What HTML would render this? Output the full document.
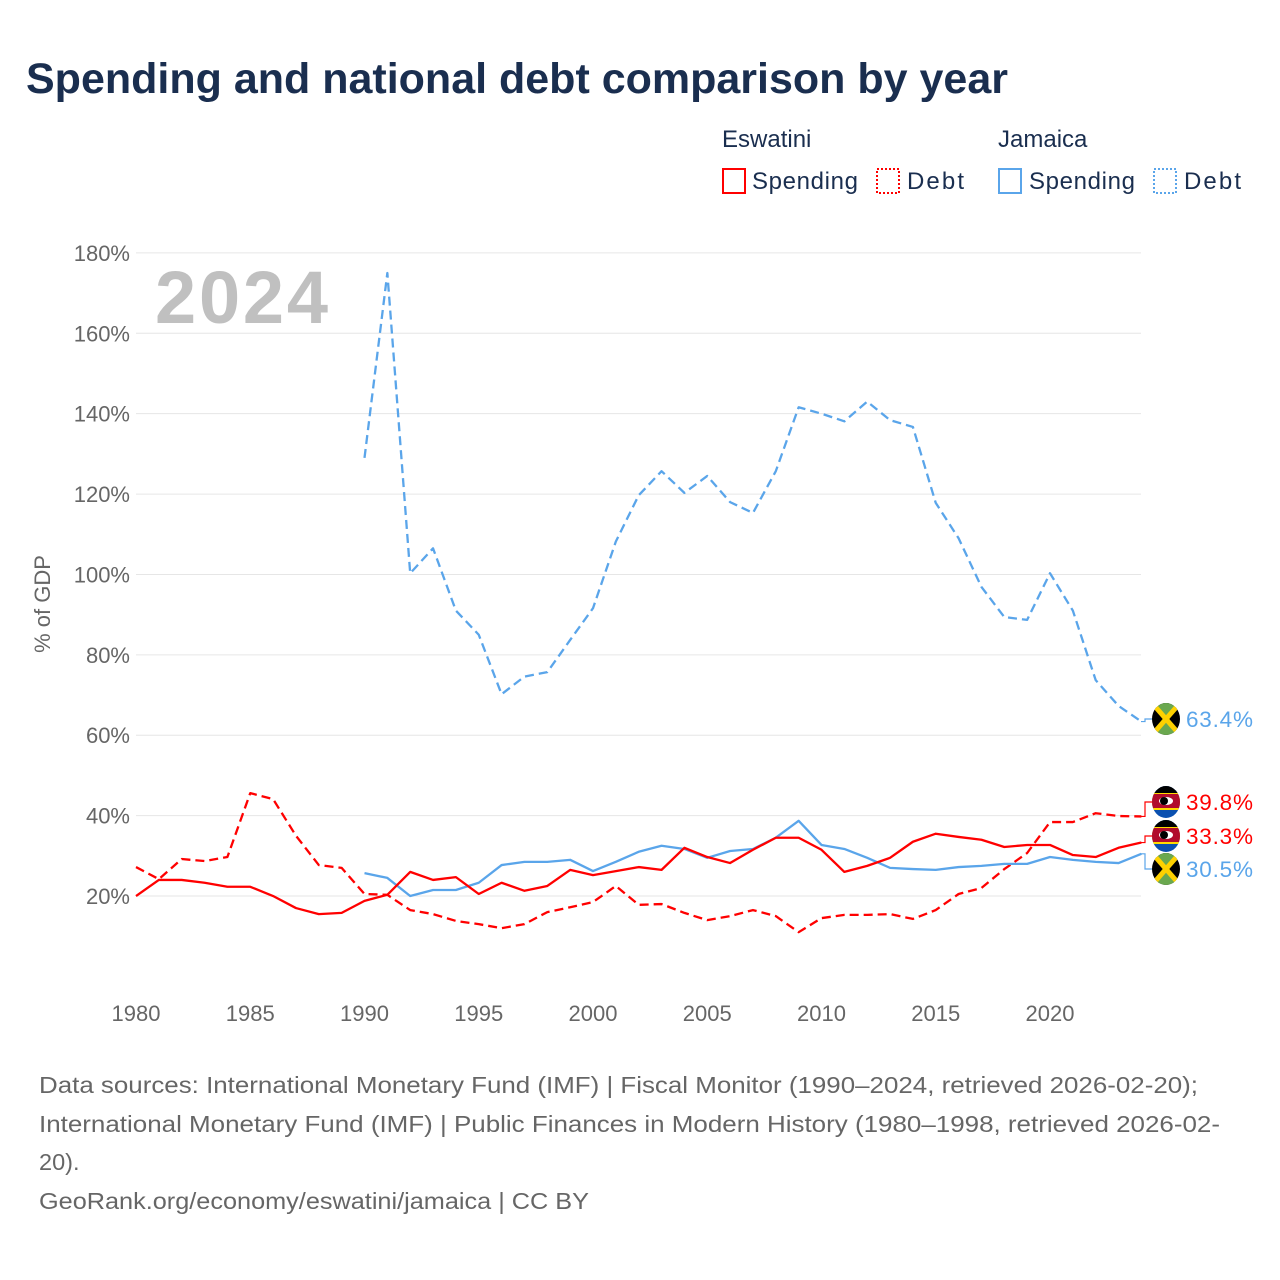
<!DOCTYPE html>
<html><head><meta charset="utf-8"><style>
body{margin:0;background:#fff;width:1280px;height:1280px;overflow:hidden;font-family:"Liberation Sans",sans-serif}
svg{display:block}
</style></head><body>
<svg id="c" width="1280" height="1280" xmlns="http://www.w3.org/2000/svg">
<text x="26" y="93" font-size="43" font-weight="bold" fill="#1a2e4f">Spending and national debt comparison by year</text>
<g font-size="24" fill="#1a2e4f">
<text x="722" y="147">Eswatini</text>
<text x="998" y="147">Jamaica</text>
<rect x="723" y="169" width="22" height="24" fill="none" stroke="#f00" stroke-width="2"/>
<text x="752" y="189" textLength="106">Spending</text>
<rect x="877" y="169" width="22" height="24" fill="none" stroke="#f00" stroke-width="2" stroke-dasharray="2 2"/>
<text x="907" y="189" textLength="57">Debt</text>
<rect x="999" y="169" width="22" height="24" fill="none" stroke="#5aa5ea" stroke-width="2"/>
<text x="1029" y="189" textLength="106">Spending</text>
<rect x="1154" y="169" width="22" height="24" fill="none" stroke="#5aa5ea" stroke-width="2" stroke-dasharray="2 2"/>
<text x="1184" y="189" textLength="57">Debt</text>
</g>
<g id="grid"></g>
<text x="155" y="323" font-size="74" font-weight="bold" fill="#c0c0c0" textLength="173">2024</text>
<text transform="translate(50,604) rotate(-90)" text-anchor="middle" font-size="22" fill="#666">% of GDP</text>
<g id="series"></g>
<g id="labels"></g>
<g font-size="23.5" fill="#666">
<text x="39" y="1093" textLength="1159" lengthAdjust="spacingAndGlyphs">Data sources: International Monetary Fund (IMF) | Fiscal Monitor (1990–2024, retrieved 2026-02-20);</text>
<text x="39" y="1132" textLength="1181" lengthAdjust="spacingAndGlyphs">International Monetary Fund (IMF) | Public Finances in Modern History (1980–1998, retrieved 2026-02-</text>
<text x="39" y="1170">20).</text>
<text x="39" y="1209" textLength="550" lengthAdjust="spacingAndGlyphs">GeoRank.org/economy/eswatini/jamaica | CC BY</text>
</g>
</svg>
<script>
const yTicks=[20,40,60,80,100,120,140,160,180];
const xTicks=[1980,1985,1990,1995,2000,2005,2010,2015,2020];
const eswYears=[1980,1981,1982,1983,1984,1985,1986,1987,1988,1989,1990,1991,1992,1993,1994,1995,1996,1997,1998,1999,2000,2001,2002,2003,2004,2005,2006,2007,2008,2009,2010,2011,2012,2013,2014,2015,2016,2017,2018,2019,2020,2021,2022,2023,2024];
const eswSpending=[20,24,24,23.3,22.3,22.3,20,17,15.5,15.8,18.8,20.3,26,24,24.7,20.5,23.3,21.3,22.5,26.5,25.2,26.2,27.2,26.5,32,29.7,28.2,31.5,34.5,34.5,31.5,26,27.5,29.5,33.5,35.5,34.7,34,32.2,32.7,32.7,30.2,29.7,32,33.3];
const eswDebt=[27.2,24.2,29.2,28.7,29.7,45.6,44.1,35,27.7,27,20.5,20.3,16.5,15.5,13.8,13,12,13,16,17.2,18.5,22.5,17.8,18,15.8,14,15,16.5,15,11,14.5,15.3,15.3,15.5,14.3,16.5,20.5,22,26.7,30.7,38.4,38.4,40.6,39.9,39.8];
const jamYears=[1990,1991,1992,1993,1994,1995,1996,1997,1998,1999,2000,2001,2002,2003,2004,2005,2006,2007,2008,2009,2010,2011,2012,2013,2014,2015,2016,2017,2018,2019,2020,2021,2022,2023,2024];
const jamSpending=[25.7,24.5,20,21.5,21.5,23.3,27.7,28.5,28.5,29,26.2,28.5,31,32.5,31.7,29.5,31.2,31.7,34.5,38.7,32.7,31.7,29.5,27,26.7,26.5,27.2,27.5,28,28,29.7,29,28.5,28.2,30.5];
const jamDebt=[129,175,100.3,106.5,91,85,70.2,74.6,75.7,83.7,91.6,108.2,119.7,125.7,120.3,124.5,118,115.3,125.7,141.6,140,138.1,143,138.4,136.7,117.8,109,96.9,89.4,88.7,100.3,91,73.7,67.3,63.4];

const NS="http://www.w3.org/2000/svg";
const X=y=>136+(y-1980)*22.85;
const Y=v=>976.4-v*4.0194;
function mk(t,a,p){const e=document.createElementNS(NS,t);for(const k in a)e.setAttribute(k,a[k]);p.appendChild(e);return e;}
const grid=document.getElementById('grid');
yTicks.forEach(v=>{
 const l=mk('line',{x1:136,x2:1141,y1:Y(v),y2:Y(v),stroke:'#e6e6e6','stroke-width':1},grid);
 
 
 const t=mk('text',{x:130,y:Y(v)+8,'text-anchor':'end','font-size':22,fill:'#666'},grid);
 t.textContent=v+'%';
 
 
});
xTicks.forEach(v=>{
 const t=mk('text',{x:X(v),y:1021,'text-anchor':'middle','font-size':22,fill:'#666'},grid);
 t.textContent=v;
 
 
});
const S=document.getElementById('series');
function line(ys,vs,col,dash,name){
 const p=mk('polyline',{points:ys.map((y,i)=>X(y)+','+Y(vs[i])).join(' '),fill:'none',stroke:col,'stroke-width':2.3,'stroke-linejoin':'round'},S);
 if(dash)p.setAttribute('stroke-dasharray','9 5');
 
 
}
line(eswYears,eswDebt,'#f00',true,'eswatini-debt-line');
line(jamYears,jamDebt,'#5aa5ea',true,'jamaica-debt-line');
line(jamYears,jamSpending,'#5aa5ea',false,'jamaica-spending-line');
line(eswYears,eswSpending,'#f00',false,'eswatini-spending-line');

const L=document.getElementById('labels');
const lab=[
 {v:jamDebt[jamDebt.length-1],ly:719,col:'#5aa5ea',flag:'jm',name:'jamaica-debt-label'},
 {v:eswDebt[eswDebt.length-1],ly:802,col:'#f00',flag:'sz',name:'eswatini-debt-label'},
 {v:eswSpending[eswSpending.length-1],ly:836,col:'#f00',flag:'sz',name:'eswatini-spending-label'},
 {v:jamSpending[jamSpending.length-1],ly:869,col:'#5aa5ea',flag:'jm',name:'jamaica-spending-label'}
];
lab.forEach((o,i)=>{
 const g=mk('g',{},L);
 
 
 const y0=Y(o.v);
 mk('polyline',{points:`1141,${y0} 1145,${y0} 1145,${o.ly} 1152,${o.ly}`,fill:'none',stroke:o.col,'stroke-width':1.2},g);
 const cx=1166,cy=o.ly;
 const cid='cl'+i;
 const cp=mk('clipPath',{id:cid},g);mk('ellipse',{cx:cx,cy:cy,rx:14,ry:16},cp);
 const fg=mk('g',{'clip-path':`url(#${cid})`},g);
 if(o.flag==='jm'){
  mk('rect',{x:cx-14,y:cy-16,width:28,height:32,fill:'#000'},fg);
  mk('polygon',{points:`${cx-14},${cy-16} ${cx+14},${cy-16} ${cx},${cy}`,fill:'#6aa84f'},fg);
  mk('polygon',{points:`${cx-14},${cy+16} ${cx+14},${cy+16} ${cx},${cy}`,fill:'#6aa84f'},fg);
  mk('line',{x1:cx-14,y1:cy-16,x2:cx+14,y2:cy+16,stroke:'#fed100','stroke-width':5},fg);
  mk('line',{x1:cx+14,y1:cy-16,x2:cx-14,y2:cy+16,stroke:'#fed100','stroke-width':5},fg);
 }else{
  mk('rect',{x:cx-14,y:cy-16,width:28,height:32,fill:'#0a50b0'},fg);
  mk('rect',{x:cx-14,y:cy-10,width:28,height:18,fill:'#ffd900'},fg);
  mk('rect',{x:cx-14,y:cy-8,width:28,height:14,fill:'#b10c2c'},fg);
  mk('rect',{x:cx-14,y:cy-16,width:28,height:7,fill:'#000'},fg);
  mk('ellipse',{cx:cx,cy:cy-1,rx:7,ry:4,fill:'#fff'},fg);
  mk('ellipse',{cx:cx-2,cy:cy-1,rx:4,ry:4,fill:'#000'},fg);
 }
 const t=mk('text',{x:1186,y:o.ly+8,'font-size':22.5,fill:o.col,textLength:67},g);
 t.textContent=o.v.toFixed(1)+'%';
});
</script>
</body></html>
